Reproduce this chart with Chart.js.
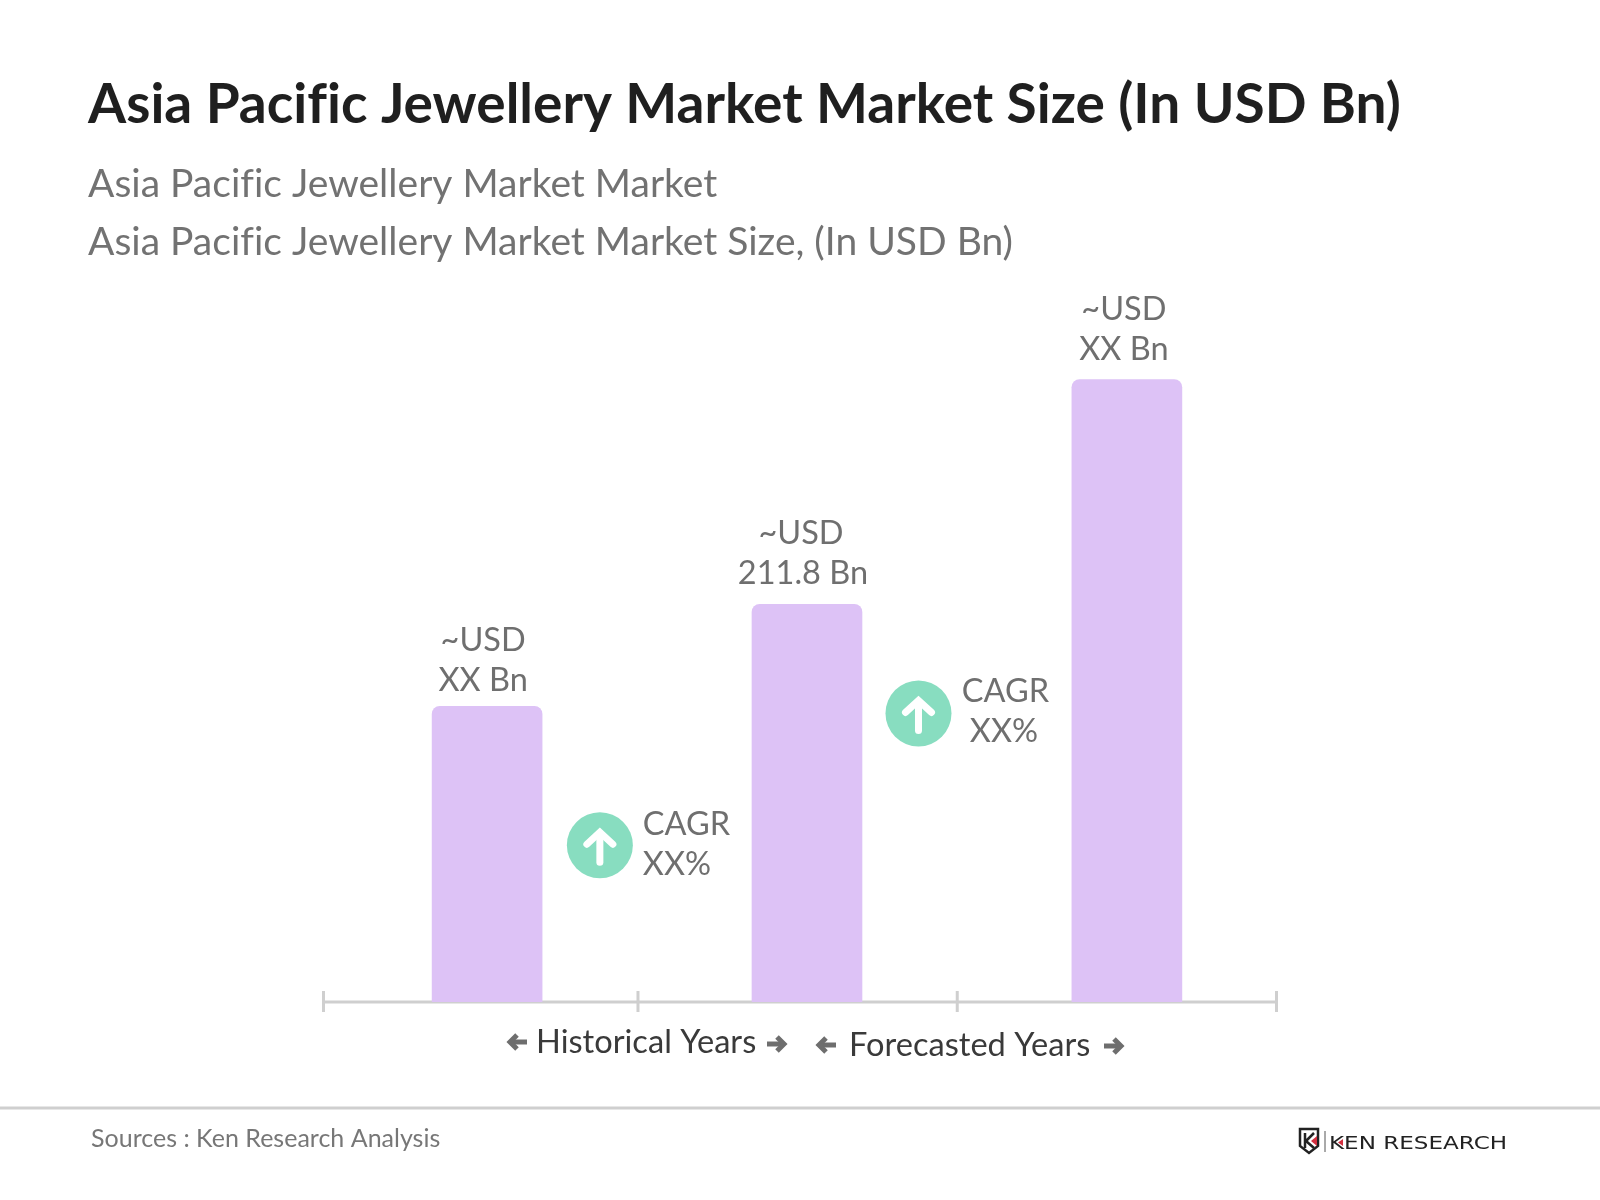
<!DOCTYPE html>
<html><head><meta charset="utf-8">
<style>html,body{margin:0;padding:0;background:#fff}canvas{display:block}</style>
<script src="https://cdn.jsdelivr.net/npm/chart.js@4"></script>
</head><body><canvas id="c" width="1600" height="1200"></canvas>
<script>
const titleText = "Asia Pacific Jewellery Market Market Size (In USD Bn)";
const subtitleLines = ["Asia Pacific Jewellery Market Market", "Asia Pacific Jewellery Market Market Size, (In USD Bn)"];
const barPositions = [0.515, 1.522, 2.529];
const barValues = [157.5, 211.8, 331.5];
const barLabelTop = ["~USD", "~USD", "~USD"];
const barLabelBottom = ["XX Bn", "211.8 Bn", "XX Bn"];
const axisTickValues = [0, 0.99, 1.995, 3];
const badgePositions = [0.870, 1.873];
const badgeValues = [83.5, 153.7];
const cagrLabels = ["CAGR", "CAGR"];
const cagrValues = ["XX%", "XX%"];
const periodLabels = ["Historical Years", "Forecasted Years"];
const sourceText = "Sources : Ken Research Analysis";
const logoText = "KEN RESEARCH";

const FONT = "Lato";
const GREY = "#6f6f6f";
const labelGap = [15, 20, 20];
const labelNudge = [0, -2, 1];

function arrow(ctx, x0, x1, y, dir) {
  const tip = dir > 0 ? x1 : x0, tail = dir > 0 ? x0 : x1;
  ctx.save();
  ctx.strokeStyle = "#6e6e6e"; ctx.lineWidth = 5; ctx.lineCap = "butt"; ctx.lineJoin = "miter";
  ctx.beginPath(); ctx.moveTo(tail, y); ctx.lineTo(tip - dir * 3, y); ctx.stroke();
  ctx.beginPath();
  ctx.moveTo(tip - dir * 10, y - 7); ctx.lineTo(tip - dir * 3, y); ctx.lineTo(tip - dir * 10, y + 7);
  ctx.stroke();
  ctx.restore();
}

const extras = {
  id: "extras",
  beforeDraw(chart) {
    // the reference prints "fi" as two separate letters
    chart.ctx.letterSpacing = "0.01px";
  },
  beforeDatasetsDraw(chart) {
    const { ctx, scales: { x, y } } = chart;
    const base = y.getPixelForValue(0);
    ctx.save();
    ctx.strokeStyle = "#cfcfcf"; ctx.lineWidth = 3;
    ctx.beginPath(); ctx.moveTo(x.getPixelForValue(0), base); ctx.lineTo(x.getPixelForValue(3), base); ctx.stroke();
    axisTickValues.forEach(v => {
      const px = x.getPixelForValue(v);
      ctx.beginPath(); ctx.moveTo(px, base - 11); ctx.lineTo(px, base + 10); ctx.stroke();
    });
    ctx.restore();
  },
  afterDatasetsDraw(chart) {
    const { ctx, scales: { x, y } } = chart;
    const base = y.getPixelForValue(0);
    ctx.save();
    ctx.textBaseline = "alphabetic";
    // bar labels
    ctx.font = `400 32.5px ${FONT}`; ctx.fillStyle = GREY; ctx.textAlign = "center";
    barValues.forEach((v, i) => {
      const px = x.getPixelForValue(barPositions[i]) - 4;
      const py = y.getPixelForValue(v) - labelGap[i];
      ctx.fillText(barLabelTop[i], px + labelNudge[i], py - 40);
      ctx.fillText(barLabelBottom[i], px + (i === 2 ? 1 : 0), py);
    });
    // badge arrows + CAGR text
    badgeValues.forEach((v, i) => {
      const cx = x.getPixelForValue(badgePositions[i]), cy = y.getPixelForValue(v);
      ctx.save();
      ctx.strokeStyle = "#fff"; ctx.lineWidth = 7; ctx.lineCap = "round"; ctx.lineJoin = "miter";
      ctx.beginPath(); ctx.moveTo(cx, cy + 17); ctx.lineTo(cx, cy - 12); ctx.stroke();
      ctx.beginPath(); ctx.moveTo(cx - 13, cy - 1); ctx.lineTo(cx, cy - 13); ctx.lineTo(cx + 13, cy - 1); ctx.stroke();
      ctx.restore();
    });
    ctx.textAlign = "left";
    const bx0 = x.getPixelForValue(badgePositions[0]), by0 = y.getPixelForValue(badgeValues[0]);
    ctx.fillText(cagrLabels[0], bx0 + 43, by0 - 10);
    ctx.fillText(cagrValues[0], bx0 + 43, by0 + 30);
    ctx.textAlign = "center";
    const bx1 = x.getPixelForValue(badgePositions[1]), by1 = y.getPixelForValue(badgeValues[1]);
    ctx.fillText(cagrLabels[1], bx1 + 87, by1 - 11);
    ctx.fillText(cagrValues[1], bx1 + 85.5, by1 + 29);
    // period labels
    ctx.font = `400 32.6px ${FONT}`; ctx.fillStyle = "#3a3a3a"; ctx.textAlign = "left";
    ctx.fillText(periodLabels[0], 536, base + 51);
    ctx.fillText(periodLabels[1], 849, base + 54);
    arrow(ctx, 507, 527, base + 40, -1);
    arrow(ctx, 767, 787, base + 42, 1);
    arrow(ctx, 816, 836, base + 43, -1);
    arrow(ctx, 1104, 1124, base + 44, 1);
    // footer
    ctx.strokeStyle = "#cfcfcf"; ctx.lineWidth = 3;
    ctx.beginPath(); ctx.moveTo(0, 1108); ctx.lineTo(1600, 1108); ctx.stroke();
    ctx.font = `400 25px ${FONT}`; ctx.fillStyle = "#777"; ctx.textAlign = "left";
    ctx.fillText(sourceText, 91, 1147);
    // logo
    ctx.strokeStyle = "#222"; ctx.lineWidth = 2.5;
    ctx.beginPath();
    ctx.moveTo(1300, 1129); ctx.lineTo(1318, 1129); ctx.lineTo(1318, 1146); ctx.lineTo(1309, 1153); ctx.lineTo(1300, 1146); ctx.closePath(); ctx.stroke();
    ctx.beginPath(); ctx.moveTo(1305, 1133); ctx.lineTo(1305, 1148); ctx.moveTo(1306, 1141); ctx.lineTo(1314, 1133); ctx.moveTo(1306, 1141); ctx.lineTo(1314, 1148); ctx.stroke();
    ctx.fillStyle = "#d32f3f";
    ctx.beginPath(); ctx.moveTo(1317, 1136); ctx.lineTo(1317, 1146); ctx.lineTo(1311, 1141); ctx.closePath(); ctx.fill();
    ctx.strokeStyle = "#555"; ctx.lineWidth = 1;
    ctx.beginPath(); ctx.moveTo(1325, 1131); ctx.lineTo(1325, 1152); ctx.stroke();
    ctx.save();
    ctx.translate(1329, 1149); ctx.scale(1.28, 1);
    ctx.font = `400 18px "DejaVu Sans"`; ctx.fillStyle = "#222";
    ctx.fillText(logoText, 0, 0);
    ctx.restore();
    ctx.fillStyle = "#d32f3f";
    ctx.beginPath(); ctx.moveTo(1343, 1139); ctx.lineTo(1343, 1146); ctx.lineTo(1338, 1142.5); ctx.closePath(); ctx.fill();
    ctx.restore();
  }
};

new Chart(document.getElementById("c"), {
  data: {
    datasets: [
      { type: "scatter", order: 0, data: badgePositions.map((p, i) => ({ x: p, y: badgeValues[i] })),
        pointRadius: 33, pointHoverRadius: 33, backgroundColor: "#88DDC0", borderWidth: 0, showLine: false },
      { type: "bar", order: 1, data: barPositions.map((p, i) => ({ x: p, y: barValues[i] })),
        backgroundColor: "#DDC2F6", barThickness: 110,
        borderRadius: { topLeft: 8, topRight: 8, bottomLeft: 0, bottomRight: 0 }, borderSkipped: false }
    ]
  },
  options: {
    responsive: false, animation: false, devicePixelRatio: 1,
    layout: { padding: { left: 88, right: 100, top: 0, bottom: 198 } },
    plugins: {
      legend: { display: false }, tooltip: { enabled: false },
      title: { display: true, text: titleText, align: "start", color: "#1f1f1f",
        font: { family: FONT, size: 55, weight: "700", lineHeight: 1.2 }, padding: { top: 72.5, bottom: 17 } },
      subtitle: { display: true, text: subtitleLines, align: "start", color: "#727272",
        font: { family: FONT, size: 39, weight: "400", lineHeight: 1.49 }, padding: { top: 0, bottom: 18.7 } }
    },
    scales: {
      x: { type: "linear", min: 0, max: 3, offset: false, display: true, grid: { display: false }, border: { display: false },
        ticks: { display: false }, afterFit(s) { s.height = 0; } },
      y: { type: "linear", min: 0, max: 379, position: "left", grid: { display: false }, border: { display: false },
        ticks: { display: false }, afterFit(s) { s.width = 235.5; } },
      y2: { type: "linear", position: "right", grid: { display: false }, border: { display: false },
        ticks: { display: false }, afterFit(s) { s.width = 223.5; } }
    }
  },
  plugins: [extras]
});
</script></body></html>
